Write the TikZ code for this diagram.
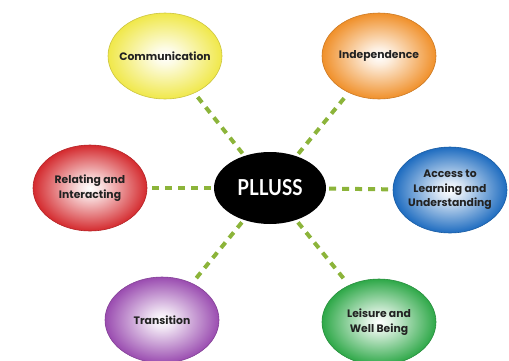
\documentclass[tikz,border=0pt]{standalone}
\usepackage{fontspec}
\setmainfont{Poppins}
\newfontfamily\centerfont{Lato}
\usetikzlibrary{shapes.geometric}
\definecolor{cyel}{HTML}{F0E84A}
\definecolor{cora}{HTML}{F0902A}
\definecolor{cred}{HTML}{D42A2E}
\definecolor{cblu}{HTML}{1E6CC0}
\definecolor{cpur}{HTML}{9A4CB0}
\definecolor{cgrn}{HTML}{2EA848}
\definecolor{dashgreen}{HTML}{8CB43A}
\definecolor{txt}{HTML}{222222}
\pgfdeclareradialshading{gyel}{\pgfpoint{0bp}{0bp}}{color(0bp)=(white); color(5bp)=(white!85!cyel); color(25bp)=(cyel); color(50bp)=(cyel)}
\pgfdeclareradialshading{gora}{\pgfpoint{0bp}{0bp}}{color(0bp)=(white); color(5bp)=(white!85!cora); color(25bp)=(cora); color(50bp)=(cora)}
\pgfdeclareradialshading{gred}{\pgfpoint{0bp}{0bp}}{color(0bp)=(white); color(5bp)=(white!85!cred); color(25bp)=(cred); color(50bp)=(cred)}
\pgfdeclareradialshading{gblu}{\pgfpoint{0bp}{0bp}}{color(0bp)=(white); color(5bp)=(white!85!cblu); color(25bp)=(cblu); color(50bp)=(cblu)}
\pgfdeclareradialshading{gpur}{\pgfpoint{0bp}{0bp}}{color(0bp)=(white); color(5bp)=(white!85!cpur); color(25bp)=(cpur); color(50bp)=(cpur)}
\pgfdeclareradialshading{ggrn}{\pgfpoint{0bp}{0bp}}{color(0bp)=(white); color(5bp)=(white!85!cgrn); color(25bp)=(cgrn); color(50bp)=(cgrn)}
\begin{document}
\begin{tikzpicture}[x=1pt,y=-1pt,
  outer/.style={ellipse, minimum width=114pt, minimum height=86pt, inner sep=0pt,
    line width=0.6pt},
  lab/.style={align=center, font=\bfseries\fontsize{10.8}{14.5}\selectfont, text=txt, inner sep=0pt},
  link/.style={draw=dashgreen, line width=4pt, dash pattern=on 7pt off 6pt,
    shorten <=3pt, shorten >=3pt}]
\useasboundingbox (0,0) rectangle (509,360);
\node[ellipse, fill=black, minimum width=112pt, minimum height=72pt, inner sep=0pt,
  text=white, font=\centerfont\bfseries\fontsize{22}{24}\selectfont] (c) at (270,188) {\scalebox{0.85}[1]{PLLUSS}};
\node[outer, shading=gyel, draw=cyel!85!black, label={[lab]center:Communication}] (comm) at (165,56) {};
\node[outer, shading=gora, draw=cora!85!black, label={[lab]center:Independence}] (ind) at (379,56) {};
\node[outer, shading=gred, draw=cred!85!black, label={[lab]center:Relating and\\Interacting}] (rel) at (90,188) {};
\node[outer, shading=gblu, draw=cblu!85!black, label={[lab]center:Access to\\Learning and\\Understanding}] (acc) at (450,190) {};
\node[outer, shading=gpur, draw=cpur!85!black, label={[lab]center:Transition}] (tra) at (162,320) {};
\node[outer, shading=ggrn, draw=cgrn!85!black, label={[lab]center:Leisure and\\Well Being}] (lei) at (379,322) {};
\draw[link] (c) -- (comm);
\draw[link] (c) -- (ind);
\draw[link] (c) -- (rel);
\draw[link] (c) -- (acc);
\draw[link] (c) -- (tra);
\draw[link] (c) -- (lei);
\end{tikzpicture}
\end{document}
